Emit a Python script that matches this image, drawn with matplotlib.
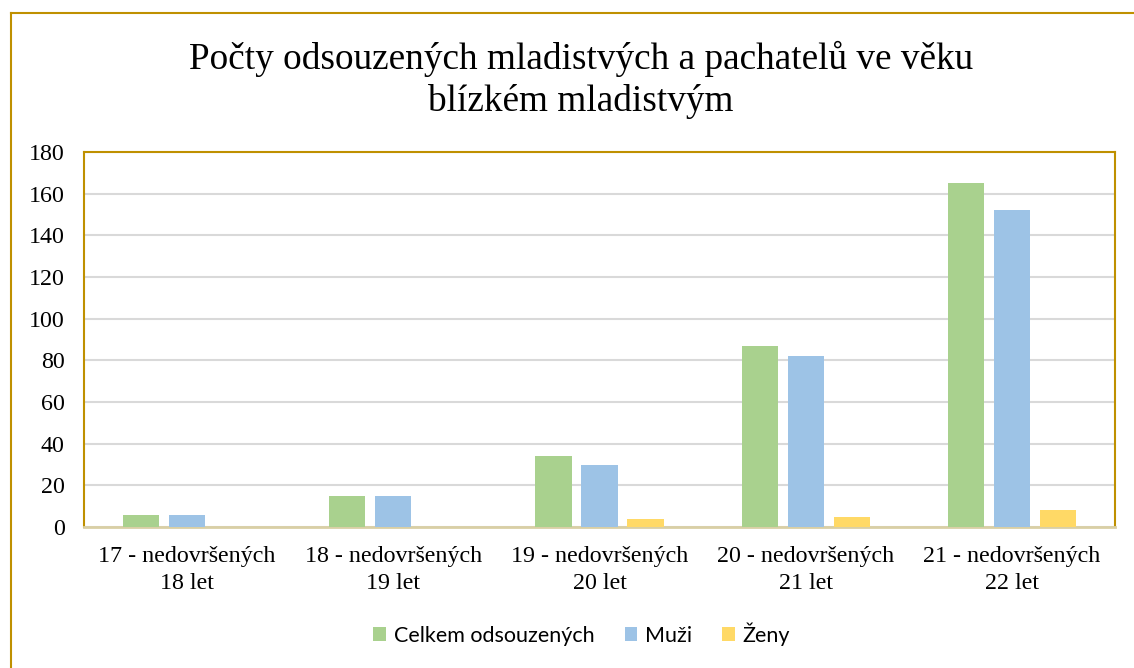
import matplotlib.pyplot as plt
import numpy as np
from matplotlib.lines import Line2D
from matplotlib.patches import Patch

categories = ["17 - nedovršených\n18 let", "18 - nedovršených\n19 let",
              "19 - nedovršených\n20 let", "20 - nedovršených\n21 let",
              "21 - nedovršených\n22 let"]
celkem = [6, 15, 34, 87, 165]
muzi = [6, 15, 30, 82, 152]
zeny = [0, 0, 4, 5, 8]
series_names = ["Celkem odsouzených", "Muži", "Ženy"]
colors = ["#A9D18E", "#9DC3E6", "#FFD966"]

serif = ["Liberation Serif", "DejaVu Serif"]
sans = ["Lato", "DejaVu Sans"]

fig = plt.figure(figsize=(11.34, 6.68), dpi=100)
ax = fig.add_axes([84 / 1134, 1 - 527 / 668, (1115 - 84) / 1134, (527 - 152) / 668])

x = np.arange(len(categories))
w = 0.175
off = 0.223
for i, (vals, c) in enumerate(zip([celkem, muzi, zeny], colors)):
    ax.bar(x + (i - 1) * off, vals, width=w, color=c, zorder=3)

ax.set_xlim(-0.5, len(categories) - 0.5)
ax.set_ylim(0, 180)
ax.set_yticks(range(0, 181, 20))
ax.yaxis.grid(True, color="#D9D9D9", linewidth=1.5, zorder=0)
ax.set_xticks(x)
ax.set_xticklabels(categories, fontfamily=serif, fontsize=17.3, linespacing=1.35)
for lab in ax.get_yticklabels():
    lab.set_fontfamily(serif)
    lab.set_fontsize(17.3)
ax.tick_params(length=0)
ax.tick_params(axis="x", pad=14)
ax.tick_params(axis="y", pad=14)

for s in ["left", "top", "right"]:
    ax.spines[s].set_color("#BF9000")
    ax.spines[s].set_linewidth(1.5)
ax.spines["bottom"].set_color("#D9CFA5")
ax.spines["bottom"].set_linewidth(2)

fig.text(0.512, 1 - 80 / 668, "Počty odsouzených mladistvých a pachatelů ve věku\nblízkém mladistvým",
         ha="center", va="center", fontfamily=serif, fontsize=26.8, linespacing=1.25)

handles = [Patch(facecolor=c, edgecolor="none") for c in colors]
fig.legend(handles, series_names, loc="center", bbox_to_anchor=(0.513, 1 - 634 / 668),
           ncol=3, frameon=False, prop={"family": sans, "size": 15.5},
           handlelength=0.6, handleheight=0.6, handletextpad=0.35, columnspacing=1.4)

# outer frame (left and top edges only)
fig.add_artist(Line2D([10.5 / 1134, 10.5 / 1134], [0, 1 - 12.5 / 668], color="#BF9000", linewidth=1.5))
fig.add_artist(Line2D([10.5 / 1134, 1], [1 - 12.5 / 668, 1 - 12.5 / 668], color="#BF9000", linewidth=1.5))

fig.savefig("out.png", dpi=100)
